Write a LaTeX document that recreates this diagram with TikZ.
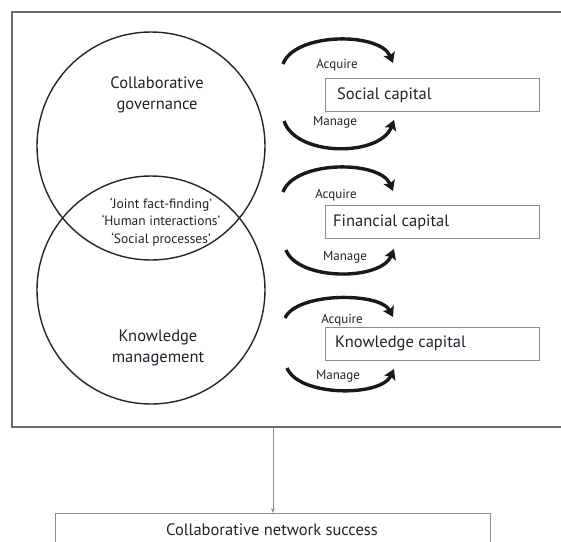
\documentclass[tikz,border=0pt]{standalone}
\usepackage{fontspec}
\setmainfont{PT Sans}
\usetikzlibrary{arrows.meta}
\definecolor{ink}{HTML}{22222F}
\definecolor{frame}{HTML}{6A6A6A}
\definecolor{boxline}{HTML}{8C8C8C}
\tikzset{
  circ/.style={draw=black!85, line width=1.4pt, circle, minimum size=228pt, inner sep=0pt},
  circlabel/.style={text=ink, font=\fontsize{16.5}{21}\selectfont, align=center},
  overlap/.style={text=ink, font=\fontsize{13.5}{17.5}\selectfont, align=center},
  capbox/.style={draw=boxline, line width=1.1pt, minimum width=214pt, minimum height=33pt,
    anchor=north west, inner sep=0pt},
  captext/.style={text=ink, font=\fontsize{16.5}{20}\selectfont, anchor=west, inner sep=0pt},
  actlabel/.style={text=ink, font=\fontsize{13}{15}\selectfont, inner sep=0pt},
  cycle/.style={line width=3.4pt, black!90, -{Stealth[length=10pt,width=12pt,inset=2pt]}},
  outer/.style={draw=frame, line width=1.8pt},
  flow/.style={draw=boxline, line width=0.8pt, -{Stealth[length=5pt,width=4pt]}},
}
\begin{document}
\begin{tikzpicture}[x=1pt,y=-1pt]
\useasboundingbox (0,0) rectangle (561,541);
\clip (0,0) rectangle (561,541);
\fill[white] (0,0) rectangle (561,541);

% framing rectangle around the model
\draw[outer] (12,12) rectangle (590,427);
\coordinate (frameS) at (273,427);

% two overlapping domains
\node[circ] (gov) at (151,146) {};
\node[circ] (km)  at (151,290) {};
\node[circlabel] (govtext) at (157,95) {Collaborative\\governance};
\node[circlabel] (kmtext)  at (158,348) {Knowledge\\management};
\node[overlap] (shared) at (161,222) {‘Joint fact-finding’\\‘Human interactions’\\‘Social processes’};

% capitals
\node[capbox] (social) at (325,78) {};
\node[captext] (socialt) at (337,95) {Social capital};
\node[capbox] (fin) at (325,205) {};
\node[captext] (fint) at (333,222) {Financial capital};
\node[capbox] (know) at (325,327) {};
\node[captext] (knowt) at (335,343) {Knowledge capital};

% acquire / manage cycles
\coordinate (s1a) at (283,64);  \coordinate (s1b) at (393,63);
\coordinate (s2a) at (284,121); \coordinate (s2b) at (394,120);
\coordinate (f1a) at (283,192); \coordinate (f1b) at (393,191);
\coordinate (f2a) at (286,250); \coordinate (f2b) at (394,249);
\coordinate (k1a) at (285,318); \coordinate (k1b) at (393,317);
\coordinate (k2a) at (287,368); \coordinate (k2b) at (394,369);

\draw[cycle] (s1a) .. controls (295,32) and (380,32) .. (s1b);
\draw[cycle] (s2a) .. controls (296,157) and (380,157) .. (s2b);
\draw[cycle] (f1a) .. controls (295,160) and (380,160) .. (f1b);
\draw[cycle] (f2a) .. controls (298,281) and (381,281) .. (f2b);
\draw[cycle] (k1a) .. controls (297,292) and (380,292) .. (k1b);
\draw[cycle] (k2a) .. controls (299,397) and (381,397) .. (k2b);

\node[actlabel] (acq1) at (337,65)  {Acquire};
\node[actlabel] (man1) at (335,122) {Manage};
\node[actlabel] (acq2) at (336,195) {Acquire};
\node[actlabel] (man2) at (345,257) {Manage};
\node[actlabel] (acq3) at (342,320) {Acquire};
\node[actlabel] (man3) at (338,376) {Manage};

% outcome
\node[draw=boxline, line width=1.1pt, minimum width=435pt, minimum height=50pt,
  anchor=north west, inner sep=0pt] (success) at (55,513) {};
\node[captext, anchor=center] (successt) at (272,530) {Collaborative network success};
\draw[flow] (frameS) -- (success.north -| frameS);
\end{tikzpicture}
\end{document}
